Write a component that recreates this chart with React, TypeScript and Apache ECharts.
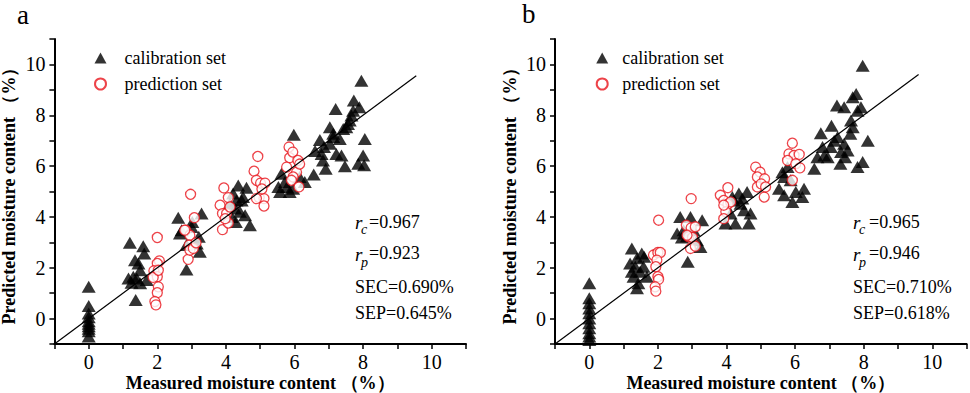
import { useEffect, useRef } from 'react';
import * as echarts from 'echarts';

const FONT = "'Liberation Serif','Times New Roman',serif";

const calibrationA: number[][] = [
  [0, 1.25], [0, 0.5], [0, 0.2], [0, 0.05], [0, -0.1], [0, -0.2], [0, -0.3], [0, -0.4], [0, -0.5], [0, -0.7],
  [1.2, 2.98], [1.35, 2.3], [1.4, 1.58], [1.5, 1.9], [1.59, 2.85], [1.62, 2.56], [1.3, 1.65], [1.37, 0.73], [1.25, 1.41], [1.69, 1.52], [1.5, 1.39], [1.16, 1.58], [1.45, 2.17],
  [2.61, 3.97], [2.71, 3.48], [2.66, 3.35], [3.02, 3.8], [3.29, 4.13], [3.21, 3.22], [3.24, 2.63], [2.85, 1.93], [2.85, 2.9], [3.0, 3.6], [3.15, 2.95],
  [4.12, 4.52], [4.36, 5.24], [4.6, 5.15], [4.21, 4.92], [4.46, 4.65], [4.27, 4.33], [4.41, 4.2], [4.56, 4.07], [4.29, 3.8], [4.7, 3.67], [4.17, 4.0], [4.5, 4.78], [4.31, 4.65],
  [5.62, 5.7], [5.72, 5.37], [5.58, 4.98], [5.86, 4.98], [5.98, 7.23], [5.96, 5.11], [6.3, 5.37], [5.78, 5.18], [5.53, 5.18], [6.15, 5.57],
  [6.56, 5.67], [6.6, 6.59], [6.74, 7.03], [6.79, 6.48], [6.83, 6.22], [6.91, 5.9], [7.03, 7.53], [7.2, 8.25], [7.13, 7.27], [7.22, 6.48], [7.32, 7.07], [7.37, 6.42], [7.47, 5.99], [7.51, 7.53], [7.61, 7.79], [7.71, 8.18], [7.66, 7.99], [7.73, 8.58], [7.89, 8.31], [7.95, 9.36], [8.05, 7.07], [8.0, 6.42], [7.86, 6.09], [8.03, 6.03], [7.03, 6.88], [7.13, 7.14], [7.42, 7.46], [6.86, 6.75], [7.56, 7.66],
];

const predictionA: number[][] = [
  [2.0, 3.19], [2.06, 2.27], [2.0, 2.17], [1.9, 1.88], [2.0, 1.65], [2.03, 1.25], [2.0, 1.02], [1.93, 0.67], [1.96, 0.54], [1.88, 1.62], [2.03, 1.9],
  [2.97, 4.89], [3.08, 3.97], [2.83, 3.48], [2.95, 3.28], [2.93, 2.89], [2.9, 2.33], [2.95, 2.69], [3.05, 2.76], [3.13, 2.98], [2.8, 3.48],
  [3.94, 5.14], [3.83, 4.46], [4.07, 4.76], [3.9, 4.13], [4.02, 4.13], [3.9, 3.5], [4.07, 3.76], [4.12, 4.39], [3.98, 3.93],
  [4.93, 6.38], [4.82, 5.8], [4.89, 5.44], [5.01, 5.33], [5.14, 5.33], [4.97, 4.76], [5.11, 4.72], [5.11, 4.43], [4.89, 4.72], [5.05, 5.1],
  [5.84, 6.75], [5.86, 6.33], [5.77, 5.96], [5.95, 6.55], [6.06, 5.76], [6.1, 6.22], [5.96, 5.57], [5.91, 5.44], [6.13, 5.18], [6.15, 6.08],
];

const calibrationB: number[][] = [
  [0, 1.39], [0, 0.8], [0, 0.6], [0, 0.4], [0, 0.21], [0, 0], [0, -0.18], [0, -0.38], [0, -0.58], [0, -0.7], [0, -0.84],
  [1.24, 2.76], [1.39, 2.37], [1.53, 2.56], [1.6, 2.43], [1.68, 1.65], [1.39, 1.19], [1.24, 1.84], [1.34, 2.04], [1.48, 1.84], [1.43, 1.39], [1.29, 1.65], [1.58, 2.04], [1.19, 2.17],
  [2.65, 4.0], [2.95, 4.0], [3.29, 3.87], [2.56, 3.35], [2.7, 3.19], [2.85, 3.24], [3.14, 3.08], [3.24, 2.82], [2.87, 2.24], [3.04, 3.48], [2.75, 3.48],
  [3.97, 3.74], [4.26, 3.74], [4.65, 3.74], [4.12, 4.13], [4.51, 4.26], [4.7, 4.13], [4.21, 4.65], [4.36, 4.92], [4.6, 4.98], [4.41, 4.52], [4.17, 4.78], [4.46, 4.72],
  [5.63, 5.76], [5.78, 5.96], [5.53, 5.11], [5.68, 4.85], [5.92, 4.59], [6.02, 4.98], [6.21, 4.78], [6.26, 5.11], [5.87, 5.44], [5.68, 5.57],
  [6.56, 5.9], [6.75, 7.29], [6.8, 6.75], [6.95, 6.35], [7.04, 6.75], [7.06, 7.59], [7.22, 8.38], [7.24, 7.14], [7.32, 6.09], [7.43, 8.31], [7.53, 6.61], [7.63, 7.79], [7.68, 8.71], [7.78, 8.84], [7.82, 8.18], [7.92, 8.31], [7.97, 9.95], [8.12, 7.0], [7.97, 6.16], [7.82, 5.96], [7.61, 7.27], [7.43, 6.88], [6.65, 6.35], [6.85, 6.42], [7.34, 6.55], [7.46, 6.35], [7.68, 7.53], [7.14, 7.0],
];

const predictionB: number[][] = [
  [2.02, 3.87], [1.87, 2.5], [2.0, 2.6], [2.07, 2.6], [1.97, 2.3], [1.94, 2.04], [2.0, 1.65], [2.02, 1.54], [1.92, 1.25], [1.94, 1.08],
  [2.97, 4.72], [2.83, 3.67], [2.97, 3.57], [3.09, 3.61], [2.9, 3.22], [3.01, 3.19], [2.95, 2.76], [3.09, 2.85], [2.85, 3.28],
  [3.82, 4.85], [4.04, 5.15], [3.92, 4.65], [4.04, 4.5], [4.12, 4.59], [3.98, 4.2], [3.92, 3.93], [3.92, 4.46],
  [4.85, 5.96], [4.98, 5.76], [4.9, 5.57], [5.11, 5.5], [4.9, 5.18], [5.1, 4.78], [5.01, 5.3], [5.14, 5.18],
  [5.92, 6.9], [5.82, 6.48], [5.97, 6.42], [6.12, 6.46], [5.78, 6.22], [6.02, 6.09], [6.14, 5.93], [5.92, 5.44],
];

const fitLineA: number[][] = [[-1, -1], [9.55, 9.55]];
const fitLineB: number[][] = [[-1, -1], [9.6, 9.6]];
const tickLabels = [0, 2, 4, 6, 8, 10];
const panelLabels = ['a', 'b'];
const seriesNames = ['calibration set', 'prediction set'];
const statsA = ['0.967', '0.923', 'SEC=0.690%', 'SEP=0.645%'];
const statsB = ['0.965', '0.946', 'SEC=0.710%', 'SEP=0.618%'];
const xTitle = 'Measured moisture content （%）';
const yTitle = 'Predicted moisture content （%）';

function xAxisFor(gridIndex: number) {
  return {
    type: 'value', gridIndex, min: -1, max: 11, interval: 1,
    name: xTitle, nameLocation: 'middle', nameGap: 30, nameMoveOverlap: false,
    nameTextStyle: { fontFamily: FONT, fontWeight: 'bold', fontSize: 18, lineHeight: 18, color: '#000' },
    axisLine: { show: true, onZero: false, lineStyle: { color: '#000', width: 2 } },
    axisTick: { show: true, interval: 0, length: 5, lineStyle: { color: '#000', width: 1.5 } },
    axisLabel: {
      interval: 0, margin: 8, fontFamily: FONT, fontSize: 20, color: '#000',
      formatter: (v: number) => (tickLabels.includes(v) ? String(v) : ''),
    },
    splitLine: { show: false },
  };
}

function yAxisFor(gridIndex: number) {
  return {
    type: 'value', gridIndex, min: -1, max: 11, interval: 1,
    name: yTitle, nameLocation: 'middle', nameGap: 36, nameMoveOverlap: false,
    nameTextStyle: { fontFamily: FONT, fontWeight: 'bold', fontSize: 18, lineHeight: 18, color: '#000' },
    axisLine: { show: true, onZero: false, lineStyle: { color: '#000', width: 2 } },
    axisTick: { show: true, interval: 0, length: 5, lineStyle: { color: '#000', width: 1.5 } },
    axisLabel: {
      interval: 0, margin: 9, fontFamily: FONT, fontSize: 20, color: '#000',
      formatter: (v: number) => (tickLabels.includes(v) ? String(v) : ''),
    },
    splitLine: { show: false },
  };
}

function statsGraphic(x0: number, eqX: number, s: string[]) {
  const base = { fontFamily: FONT, fill: '#000', verticalAlign: 'middle' };
  return [
    { type: 'text', x: x0, y: 222, style: { ...base, text: 'r', fontSize: 19, fontStyle: 'italic' } },
    { type: 'text', x: x0 + 6, y: 229, style: { ...base, text: 'c', fontSize: 14, fontStyle: 'italic' } },
    { type: 'text', x: eqX, y: 222, style: { ...base, text: '=' + s[0], fontSize: 18 } },
    { type: 'text', x: x0, y: 254, style: { ...base, text: 'r', fontSize: 19, fontStyle: 'italic' } },
    { type: 'text', x: x0 + 6, y: 262, style: { ...base, text: 'p', fontSize: 14, fontStyle: 'italic' } },
    { type: 'text', x: eqX, y: 253, style: { ...base, text: '=' + s[1], fontSize: 18 } },
    { type: 'text', x: x0, y: 287, style: { ...base, text: s[2], fontSize: 18 } },
    { type: 'text', x: x0, y: 313, style: { ...base, text: s[3], fontSize: 18 } },
  ];
}

function scatterPair(idx: number, cal: number[][], pred: number[][], fit: number[][]) {
  return [
    {
      name: seriesNames[0], type: 'scatter', xAxisIndex: idx, yAxisIndex: idx,
      symbol: 'triangle', symbolSize: [14, 12], data: cal,
      itemStyle: { color: '#000' },
    },
    {
      name: seriesNames[1], type: 'scatter', xAxisIndex: idx, yAxisIndex: idx,
      symbol: 'circle', symbolSize: 10, data: pred,
      itemStyle: { color: '#fff', borderColor: '#e8141c', borderWidth: 1.3 },
    },
    {
      name: 'fit', type: 'line', xAxisIndex: idx, yAxisIndex: idx,
      data: fit, showSymbol: false, symbol: 'none',
      lineStyle: { color: '#000', width: 1.2 }, z: 5,
    },
  ];
}

function legendFor(left: number, textPad: number) {
  return {
    left, top: 44, orient: 'vertical', itemWidth: 12, itemHeight: 11, itemGap: 8,
    data: seriesNames, selectedMode: false,
    textStyle: { fontFamily: FONT, fontSize: 18, color: '#000', padding: [0, 0, 0, textPad] },
  };
}

export default function App() {
  const ref = useRef<HTMLDivElement>(null);
  useEffect(() => {
    if (!ref.current) return;
    const chart = echarts.init(ref.current, undefined, { renderer: 'svg' });
    chart.setOption({
      animation: false,
      backgroundColor: '#fff',
      grid: [
        { left: 54.4, top: 39, width: 411.6, height: 305, containLabel: false, outerBoundsMode: 'none' },
        { left: 555, top: 39, width: 411.6, height: 305, containLabel: false, outerBoundsMode: 'none' },
      ],
      xAxis: [xAxisFor(0), xAxisFor(1)],
      yAxis: [yAxisFor(0), yAxisFor(1)],
      legend: [legendFor(89, 13), legendFor(590.7, 9)],
      series: [
        ...scatterPair(0, calibrationA, predictionA, fitLineA),
        ...scatterPair(1, calibrationB, predictionB, fitLineB),
      ],
      graphic: [
        { type: 'text', x: 17, y: 15, style: { text: panelLabels[0], fontFamily: FONT, fontSize: 27, fill: '#000', verticalAlign: 'middle' } },
        { type: 'text', x: 522, y: 14, style: { text: panelLabels[1], fontFamily: FONT, fontSize: 27, fill: '#000', verticalAlign: 'middle' } },
        ...statsGraphic(355, 369, statsA),
        ...statsGraphic(853, 869, statsB),
      ],
    });
    return () => chart.dispose();
  }, []);
  return <div ref={ref} style={{ position: 'absolute', left: 0, top: 0, width: 970, height: 393, background: '#fff' }} />;
}
